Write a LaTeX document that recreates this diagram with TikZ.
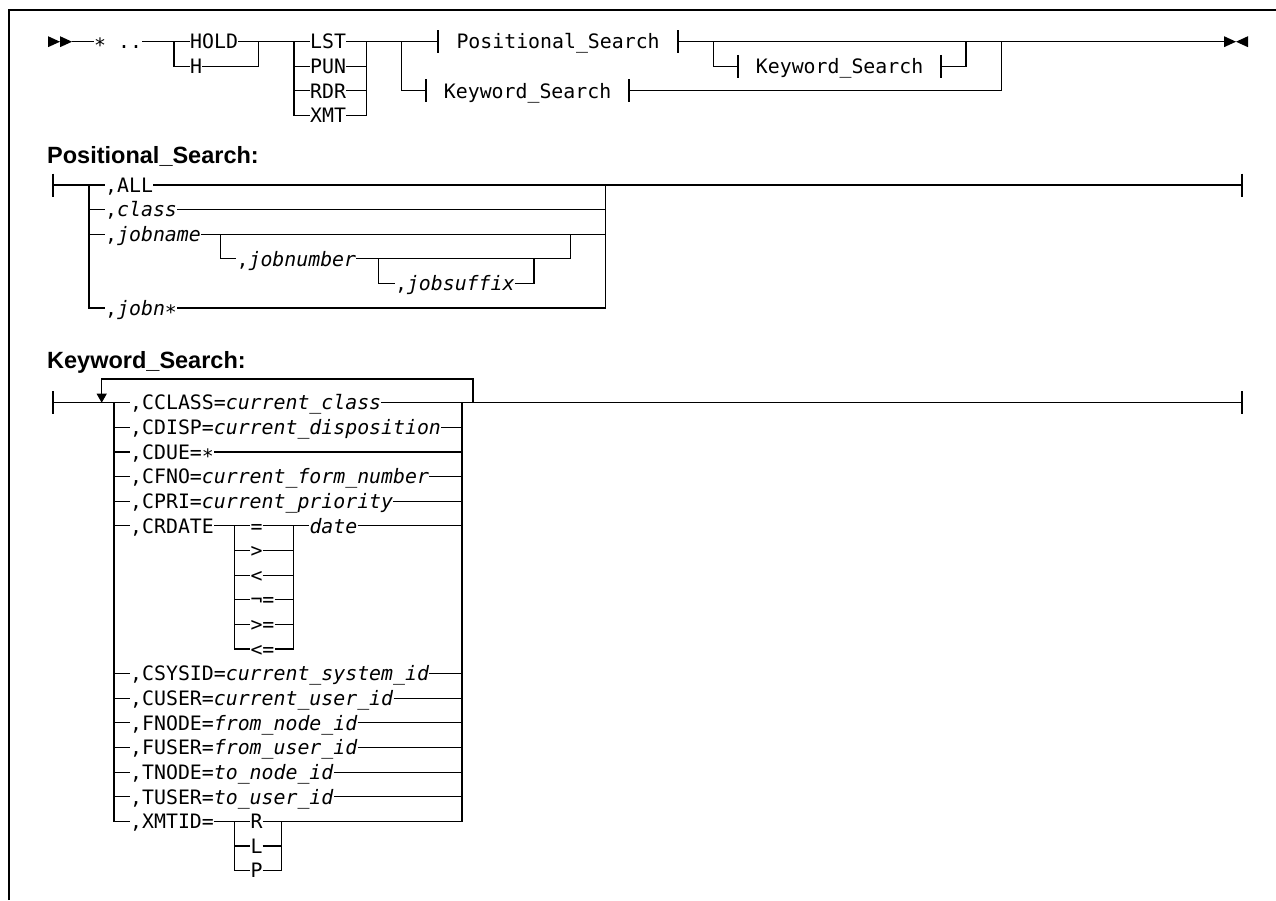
\documentclass[tikz,border=0pt]{standalone}
\usepackage{fontspec}
\setmainfont{Liberation Sans}
\newfontfamily\railfont{DejaVu Sans Mono}
\usetikzlibrary{arrows.meta}

% lowered asterisk, sitting on the rail like the other tokens
\newcommand\lowstar{\raisebox{-4pt}{*}}
% vertical end tick across a rail
\newcommand\tickat[1]{\draw[tickmark] ([yshift=11.5pt]#1) -- ([yshift=-11.5pt]#1);}

\tikzset{
  rail/.style={line width=1.1pt, line join=miter},
  frameline/.style={line width=1.5pt},
  tickmark/.style={line width=1.9pt},
  tok/.style={font=\railfont\fontsize{19.85pt}{24pt}\selectfont,
              inner sep=0pt, text height=14.5pt, text depth=0pt, anchor=west},
  refbox/.style={tok, inner xsep=18pt},
  heading/.style={font=\bfseries\fontsize{23.5pt}{28pt}\selectfont,
                  inner sep=0pt, text height=16.8pt, text depth=0pt, anchor=west},
  pointer/.style={rail, -{Triangle[width=10pt,length=9pt]}},
}

\begin{document}
\begin{tikzpicture}[x=1pt,y=-1pt]
\useasboundingbox (0,0) rectangle (1276,900);
\draw[frameline] (9,900) -- (9,10) -- (1276,10);

% ---------------- main statement ----------------
\fill (48,36.2) -- (60,41.7) -- (48,47.2) -- cycle;
\fill (60,36.2) -- (72,41.7) -- (60,47.2) -- cycle;
\coordinate (st) at (72,41.7);
\node[tok] (star) at (94,41.7) {\lowstar};
\node[tok] (dots) at (118,41.7) {..};
\draw[rail] (st) -- (star.west);

% HOLD | H
\coordinate (hl) at (174,41.7);
\coordinate (hr) at (258.3,41.7);
\node[tok] (hold) at (190,41.7) {HOLD};
\node[tok] (h) at (190,66.3) {H};
\draw[rail] (dots.east) -- (hold.west);
\draw[rail] (hold.east) -- (hr);
\draw[rail] (hl) |- (h.west);
\draw[rail] (h.east) -| (hr);

% LST | PUN | RDR | XMT
\coordinate (ll) at (294,41.7);
\coordinate (lr) at (366.7,41.7);
\node[tok] (lst) at (310,41.7) {LST};
\node[tok] (pun) at (310,66.3) {PUN};
\node[tok] (rdr) at (310,90.9) {RDR};
\node[tok] (xmt) at (310,115.5) {XMT};
\draw[rail] (hr) -- (lst.west);
\draw[rail] (lst.east) -- (lr);
\draw[rail] (ll) |- (xmt.west);
\draw[rail] (xmt.east) -| (lr);
\foreach \n in {pun,rdr} {
  \draw[rail] (ll |- \n.west) -- (\n.west);
  \draw[rail] (\n.east) -- (lr |- \n.east);
}

% Positional_Search [Keyword_Search] | Keyword_Search
\coordinate (bl) at (401.7,41.7);
\coordinate (ol) at (713.3,41.7);
\coordinate (or) at (966,41.7);
\coordinate (br) at (1001.6,41.7);
\coordinate (en) at (1224,41.7);
\node[refbox] (ps) at (438.3,41.7) {Positional\_Search};
\node[refbox] (ksa) at (737.7,66.3) {Keyword\_Search};
\node[refbox] (ksb) at (425.7,90.9) {Keyword\_Search};
\draw[rail] (lr) -- (ps.west);
\draw[rail] (ps.east) -- (en);
\draw[rail] (ol) |- (ksa.west);
\draw[rail] (ksa.east) -| (or);
\draw[rail] (bl) |- (ksb.west);
\draw[rail] (ksb.east) -| (br);
\foreach \n in {ps,ksa,ksb} { \tickat{\n.west} \tickat{\n.east} }
\fill (1224,36.2) -- (1236,41.7) -- (1224,47.2) -- cycle;
\fill (1248,36.2) -- (1236,41.7) -- (1248,47.2) -- cycle;

% ---------------- Positional_Search ----------------
\node[heading] (phead) at (47,155) {Positional\_Search:};
\coordinate (pst) at (53,185);
\coordinate (pbl) at (89,185);
\coordinate (pbr) at (605.7,185);
\coordinate (pend) at (1241.7,185);
\node[tok] (all) at (105,185) {,ALL};
\node[tok] (cls) at (105,209.6) {,\textit{class}};
\node[tok] (jn) at (105,234.2) {,\textit{jobname}};
\node[tok] (jnum) at (236.4,258.8) {,\textit{jobnumber}};
\node[tok] (jsuf) at (394.8,283.4) {,\textit{jobsuffix}};
\node[tok] (jstar) at (105,308) {,\textit{jobn\lowstar}};
\draw[rail] (pst) -- (all.west);
\draw[rail] (all.east) -- (pend);
\tickat{pst} \tickat{pend}
\draw[rail] (pbl) |- (jstar.west);
\draw[rail] (jstar.east) -| (pbr);
\foreach \n in {cls,jn} {
  \draw[rail] (pbl |- \n.west) -- (\n.west);
  \draw[rail] (\n.east) -- (pbr |- \n.east);
}
\coordinate (jnl) at (220.4,234.2);
\coordinate (jnr) at (570.6,234.2);
\coordinate (jsl) at (378.8,258.8);
\coordinate (jsr) at (534,258.8);
\draw[rail] (jnl) |- (jnum.west);
\draw[rail] (jnum.east) -| (jnr);
\draw[rail] (jsl) |- (jsuf.west);
\draw[rail] (jsuf.east) -| (jsr);

% ---------------- Keyword_Search ----------------
\node[heading] (khead) at (47,360) {Keyword\_Search:};
\coordinate (kst) at (53,402.7);
\coordinate (karr) at (101.7,402.7);
\coordinate (kl) at (114,402.7);
\coordinate (kr) at (462,402.7);
\coordinate (kloop) at (473,402.7);
\coordinate (ktop) at (101.7,379);
\coordinate (kend) at (1241.7,402.7);

\node[tok] (cclass) at (130,402.7) {,CCLASS=\textit{current\_class}};
\node[tok] (cdisp)  at (130,427.3) {,CDISP=\textit{current\_disposition}};
\node[tok] (cdue)   at (130,452.0) {,CDUE=\lowstar};
\node[tok] (cfno)   at (130,476.6) {,CFNO=\textit{current\_form\_number}};
\node[tok] (cpri)   at (130,501.2) {,CPRI=\textit{current\_priority}};
\node[tok] (crdate) at (130,525.9) {,CRDATE};
\node[tok] (opeq)   at (250.3,525.9) {=};
\node[tok] (opgt)   at (250.3,550.5) {>};
\node[tok] (oplt)   at (250.3,575.1) {<};
\node[tok] (opne)   at (250.3,599.7) {¬=};
\node[tok] (opge)   at (250.3,624.4) {>=};
\node[tok] (ople)   at (250.3,649.0) {<=};
\node[tok] (date)   at (309.3,525.9) {\textit{date}};
\node[tok] (csysid) at (130,673.6) {,CSYSID=\textit{current\_system\_id}};
\node[tok] (cuser)  at (130,698.3) {,CUSER=\textit{current\_user\_id}};
\node[tok] (fnode)  at (130,722.9) {,FNODE=\textit{from\_node\_id}};
\node[tok] (fuser)  at (130,747.5) {,FUSER=\textit{from\_user\_id}};
\node[tok] (tnode)  at (130,772.2) {,TNODE=\textit{to\_node\_id}};
\node[tok] (tuser)  at (130,796.8) {,TUSER=\textit{to\_user\_id}};
\node[tok] (xmtid)  at (130,821.4) {,XMTID=};
\node[tok] (rr)     at (250.3,821.4) {R};
\node[tok] (rl)     at (250.3,846.0) {L};
\node[tok] (rp)     at (250.3,870.7) {P};

% main rail and repeat loop
\draw[rail] (kst) -- (cclass.west);
\draw[rail] (cclass.east) -- (kend);
\tickat{kst} \tickat{kend}
\draw[pointer] (kloop) |- (ktop) -- (karr);

% choice rails
\draw[rail] (kl) |- (xmtid.west);
\draw[rail] (rr.east) -| (kr);
\foreach \n in {cdisp,cdue,cfno,cpri,crdate,csysid,cuser,fnode,fuser,tnode,tuser}
  \draw[rail] (kl |- \n.west) -- (\n.west);
\foreach \n in {cdisp,cdue,cfno,cpri,date,csysid,cuser,fnode,fuser,tnode,tuser}
  \draw[rail] (\n.east) -- (kr |- \n.east);

% CRDATE operators
\coordinate (dl) at (234.3,525.9);
\coordinate (dr) at (293.3,525.9);
\draw[rail] (crdate.east) -- (opeq.west);
\draw[rail] (opeq.east) -- (date.west);
\draw[rail] (dl) |- (ople.west);
\draw[rail] (ople.east) -| (dr);
\foreach \n in {opgt,oplt,opne,opge} {
  \draw[rail] (dl |- \n.west) -- (\n.west);
  \draw[rail] (\n.east) -- (dr |- \n.east);
}

% XMTID values
\coordinate (xl) at (234.3,821.4);
\coordinate (xr) at (281.7,821.4);
\draw[rail] (xmtid.east) -- (rr.west);
\draw[rail] (xl) |- (rp.west);
\draw[rail] (rp.east) -| (xr);
\draw[rail] (xl |- rl.west) -- (rl.west);
\draw[rail] (rl.east) -- (xr |- rl.east);
\end{tikzpicture}
\end{document}
